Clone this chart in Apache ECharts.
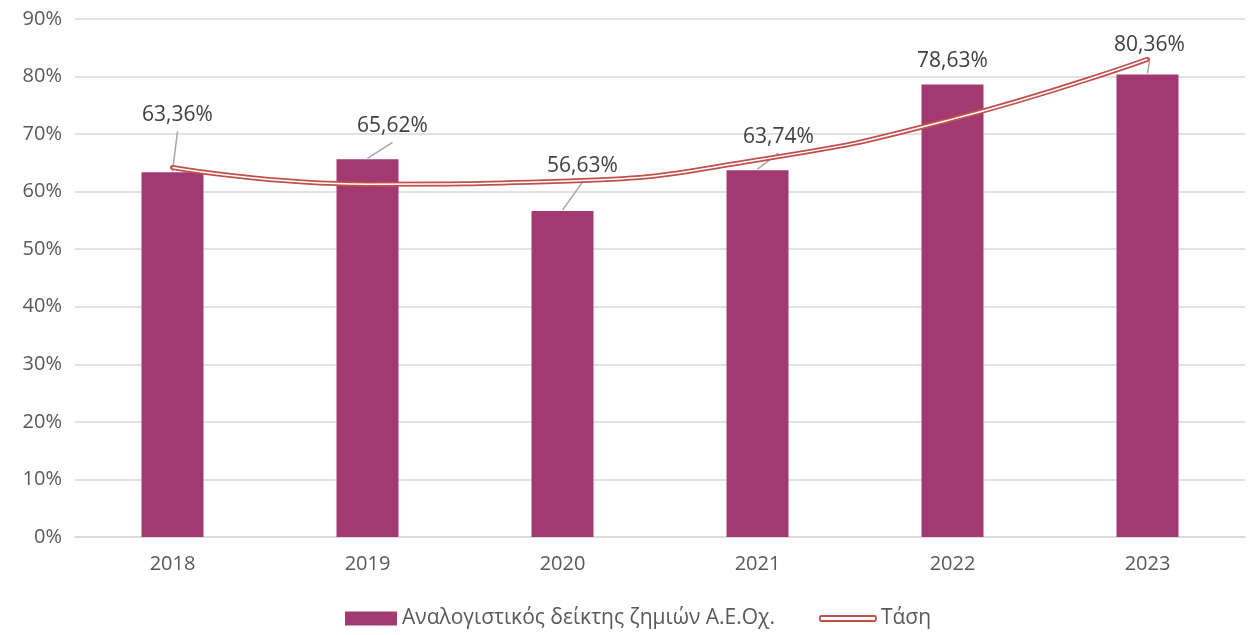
<!DOCTYPE html>
<html>
<head>
<meta charset="utf-8">
<script src="https://cdn.jsdelivr.net/npm/echarts@6/dist/echarts.min.js"></script>
<style>
  html, body { margin: 0; padding: 0; background: #fff; }
  #chart { width: 1250px; height: 635px; }
</style>
</head>
<body>
<div id="chart"></div>
<script>
var years = ['2018', '2019', '2020', '2021', '2022', '2023'];
var ratio = [63.36, 65.62, 56.63, 63.74, 78.63, 80.36];
// polynomial trend at each year
var trend = [64.2, 61.3, 61.8, 65.5, 72.6, 83.0];
var yTicks = [0, 10, 20, 30, 40, 50, 60, 70, 80, 90];

var barName = 'Αναλογιστικός δείκτης ζημιών Α.Ε.Οχ.';
var trendName = 'Τάση';

// where each data label was dragged to (px)
var labelShift = [[5, -42], [25, -18], [20, -30], [21, -18], [0, -8], [2, -14]];
var noLeader = [4];

var font = '"Open Sans", "Noto Sans", sans-serif';
var textColor = '#595959';

function pct(v) {
    return v.toFixed(2).replace('.', ',') + '%';
}

var chart = echarts.init(document.getElementById('chart'));
chart.setOption({
    animation: false,
    textStyle: { fontFamily: font },
    grid: { left: 75, right: 5, top: 19, bottom: 98 },
    legend: [{
        left: 345, top: 608, padding: 0,
        itemWidth: 52, itemHeight: 14, itemGap: 10,
        textStyle: { fontFamily: font, fontSize: 21, color: textColor },
        data: [{ name: barName, icon: 'rect' }]
    }, {
        left: 819, top: 608, padding: 0,
        itemWidth: 56, itemHeight: 5, itemGap: 10,
        textStyle: { fontFamily: font, fontSize: 21, color: textColor },
        data: [{
            name: trendName, icon: 'roundRect',
            itemStyle: { color: '#fff', borderColor: '#C0504D', borderWidth: 1.8 }
        }]
    }],
    xAxis: {
        type: 'category',
        data: years,
        axisLine: { lineStyle: { color: '#D9D9D9', width: 1.5 } },
        axisTick: { show: false },
        axisLabel: { color: textColor, fontSize: 20, margin: 17 }
    },
    yAxis: {
        type: 'value',
        min: yTicks[0],
        max: yTicks[yTicks.length - 1],
        interval: 10,
        axisLine: { show: false },
        axisTick: { show: false },
        splitLine: { lineStyle: { color: '#D9D9D9', width: 1.5 } },
        axisLabel: { color: textColor, fontSize: 20, margin: 13, formatter: '{value}%' }
    },
    series: [{
        name: barName,
        type: 'bar',
        data: ratio,
        barWidth: 62,
        itemStyle: { color: '#A23A71' },
        label: {
            show: true,
            position: 'top',
            distance: 5,
            color: '#404040',
            fontSize: 21,
            formatter: function(p) { return pct(p.value); }
        },
        labelLayout: function(p) {
            var s = labelShift[p.dataIndex];
            return { dx: s[0], dy: s[1] };
        },
        z: 2
    }, {
        // leader lines from the moved labels back to the bar tops
        name: 'leaders',
        type: 'custom',
        data: ratio.map(function(v, i) { return [i, v]; }),
        silent: true,
        z: 2,
        renderItem: function(params, api) {
            var i = api.value(0);
            if (noLeader.indexOf(i) >= 0) return null;
            var p = api.coord([i, api.value(1)]);
            var s = labelShift[i];
            return {
                type: 'line',
                z2: 5,
                shape: { x1: p[0] + s[0], y1: p[1] + s[1] + 1, x2: p[0], y2: p[1] - 1 },
                style: { stroke: '#A6A6A6', lineWidth: 1.5 }
            };
        }
    }, {
        name: trendName,
        type: 'line',
        data: trend,
        smooth: true,
        symbol: 'none',
        lineStyle: { color: '#C0504D', width: 5, cap: 'round' },
        itemStyle: { color: '#C0504D' },
        z: 3
    }, {
        name: 'trend-core',
        type: 'line',
        data: trend,
        smooth: true,
        symbol: 'none',
        silent: true,
        lineStyle: { color: '#ffffff', width: 1.5 },
        z: 4
    }]
});
</script>
</body>
</html>
